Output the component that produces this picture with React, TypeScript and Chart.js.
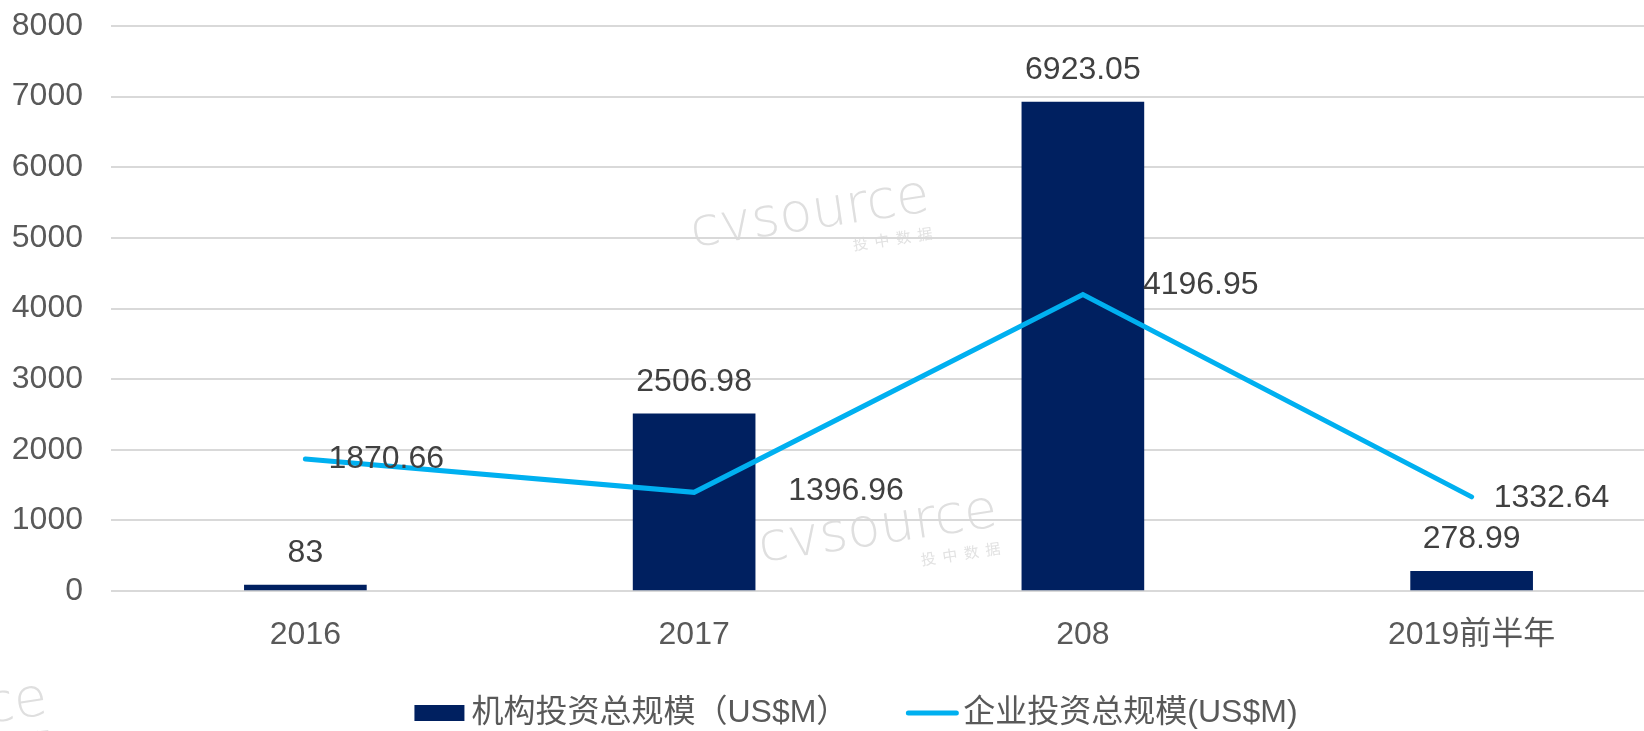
import React, { useEffect, useRef } from "react";
import { Chart, registerables } from "chart.js";

Chart.register(...registerables);

const categories = ["2016", "2017", "208", "2019前半年"];
const institutionValues = [83, 2506.98, 6923.05, 278.99];
const corporateValues = [1870.66, 1396.96, 4196.95, 1332.64];
const yTicks = [0, 1000, 2000, 3000, 4000, 5000, 6000, 7000, 8000];
const barSeriesName = "机构投资总规模（US$M）";
const lineSeriesName = "企业投资总规模(US$M)";

// label offsets (style) for the line's value labels, relative to each point
const lineLabelOffsets = [
  [23, 0],
  [94, -1],
  [60, -9],
  [22, 1],
];

const FONT = "'Liberation Sans', Arial, 'Noto Sans CJK SC', sans-serif";
const BAR_COLOR = "#002060";
const LINE_COLOR = "#00B0F0";
const CANVAS_W = 1690;
const CANVAS_H = 731;

const watermarkPlugin = {
  id: "watermark",
  beforeDraw(chart: any) {
    const ctx = chart.ctx;
    const marks = [
      [810, 215],
      [878, 530],
      [1772, 62],
      [-72, 718],
    ];
    ctx.save();
    for (const [x, y] of marks) {
      ctx.save();
      ctx.translate(x, y);
      ctx.rotate(-0.15);
      ctx.textAlign = "center";
      ctx.textBaseline = "middle";
      ctx.font = `200 54px 'DejaVu Sans', sans-serif`;
      ctx.fillStyle = "#dfdfdf";
      ctx.fillText("cvsource", 0, 0);
      ctx.font = `15px 'Noto Sans CJK SC', sans-serif`;
      ctx.fillStyle = "#e2e2e2";
      ctx.fillText("投  中  数  据", 78, 36);
      ctx.restore();
    }
    ctx.restore();
  },
};

const valueLabelPlugin = {
  id: "valueLabels",
  afterDatasetsDraw(chart: any) {
    const ctx = chart.ctx;
    ctx.save();
    ctx.font = `32px ${FONT}`;
    ctx.fillStyle = "#404040";
    ctx.textBaseline = "middle";
    const barMeta = chart.getDatasetMeta(0);
    ctx.textAlign = "center";
    barMeta.data.forEach((el: any, i: number) => {
      ctx.fillText(String(institutionValues[i]), el.x, el.y - 32);
    });
    const lineMeta = chart.getDatasetMeta(1);
    ctx.textAlign = "left";
    lineMeta.data.forEach((el: any, i: number) => {
      const [dx, dy] = lineLabelOffsets[i];
      ctx.fillText(String(corporateValues[i]), el.x + dx, el.y + dy);
    });
    ctx.restore();
  },
};

const legendPlugin = {
  id: "customLegend",
  afterDraw(chart: any) {
    const ctx = chart.ctx;
    ctx.save();
    ctx.font = `32px ${FONT}`;
    const w1 = ctx.measureText(barSeriesName).width;
    const w2 = ctx.measureText(lineSeriesName).width;
    const boxW = 50;
    const gapText = 7;
    const gapItems = 58;
    const total = boxW + gapText + w1 + gapItems + boxW + gapText + w2;
    const cx = 856;
    const cy = 713;
    let x = cx - total / 2;
    ctx.fillStyle = BAR_COLOR;
    ctx.fillRect(x, cy - 8, boxW, 16);
    x += boxW + gapText;
    ctx.fillStyle = "#595959";
    ctx.textAlign = "left";
    ctx.textBaseline = "middle";
    ctx.fillText(barSeriesName, x, cy);
    x += w1 + gapItems;
    ctx.strokeStyle = LINE_COLOR;
    ctx.lineWidth = 5;
    ctx.lineCap = "round";
    ctx.beginPath();
    ctx.moveTo(x + 2, cy);
    ctx.lineTo(x + boxW, cy);
    ctx.stroke();
    x += boxW + gapText;
    ctx.fillText(lineSeriesName, x, cy);
    ctx.restore();
  },
};

export default function App() {
  const canvasRef = useRef<HTMLCanvasElement | null>(null);

  useEffect(() => {
    if (!canvasRef.current) return;
    const chart = new Chart(canvasRef.current, {
      type: "bar",
      data: {
        labels: categories,
        datasets: [
          {
            type: "bar",
            label: barSeriesName,
            data: institutionValues,
            backgroundColor: BAR_COLOR,
            borderWidth: 0,
            barThickness: 122,
            order: 2,
          },
          {
            type: "line",
            label: lineSeriesName,
            data: corporateValues,
            borderColor: LINE_COLOR,
            backgroundColor: LINE_COLOR,
            borderWidth: 5,
            borderCapStyle: "round",
            borderJoinStyle: "miter",
            tension: 0,
            pointRadius: 0,
            pointHoverRadius: 0,
            fill: false,
            order: 1,
          },
        ],
      } as any,
      options: {
        responsive: false,
        animation: false,
        devicePixelRatio: 1,
        layout: { padding: { left: 0, right: 24, top: 26, bottom: 0 } },
        plugins: {
          legend: { display: false },
          tooltip: { enabled: false },
        },
        scales: {
          x: {
            grid: { display: false, drawTicks: false },
            border: { display: false },
            ticks: {
              padding: 25,
              color: "#595959",
              font: { family: FONT, size: 32 },
              maxRotation: 0,
              autoSkip: false,
            },
            afterFit: (s: any) => {
              s.height = 140;
            },
          },
          y: {
            min: 0,
            max: 8000,
            grid: { color: "#d9d9d9", lineWidth: 2, drawTicks: false },
            border: { display: false },
            ticks: {
              padding: 28,
              color: "#595959",
              font: { family: FONT, size: 32 },
              callback: (v: any) => String(v),
            },
            afterBuildTicks: (s: any) => {
              s.ticks = yTicks.map((v) => ({ value: v }));
            },
            afterFit: (s: any) => {
              s.width = 111;
              s.paddingTop = 0;
              s.paddingBottom = 0;
            },
          },
        },
      } as any,
      plugins: [watermarkPlugin, valueLabelPlugin, legendPlugin],
    });
    return () => chart.destroy();
  }, []);

  return (
    <div
      style={{
        position: "fixed",
        left: 0,
        top: 0,
        width: 1644,
        height: 731,
        overflow: "hidden",
        background: "#ffffff",
      }}
    >
      <canvas
        ref={canvasRef}
        width={CANVAS_W}
        height={CANVAS_H}
        style={{ display: "block", width: CANVAS_W, height: CANVAS_H }}
      />
    </div>
  );
}
